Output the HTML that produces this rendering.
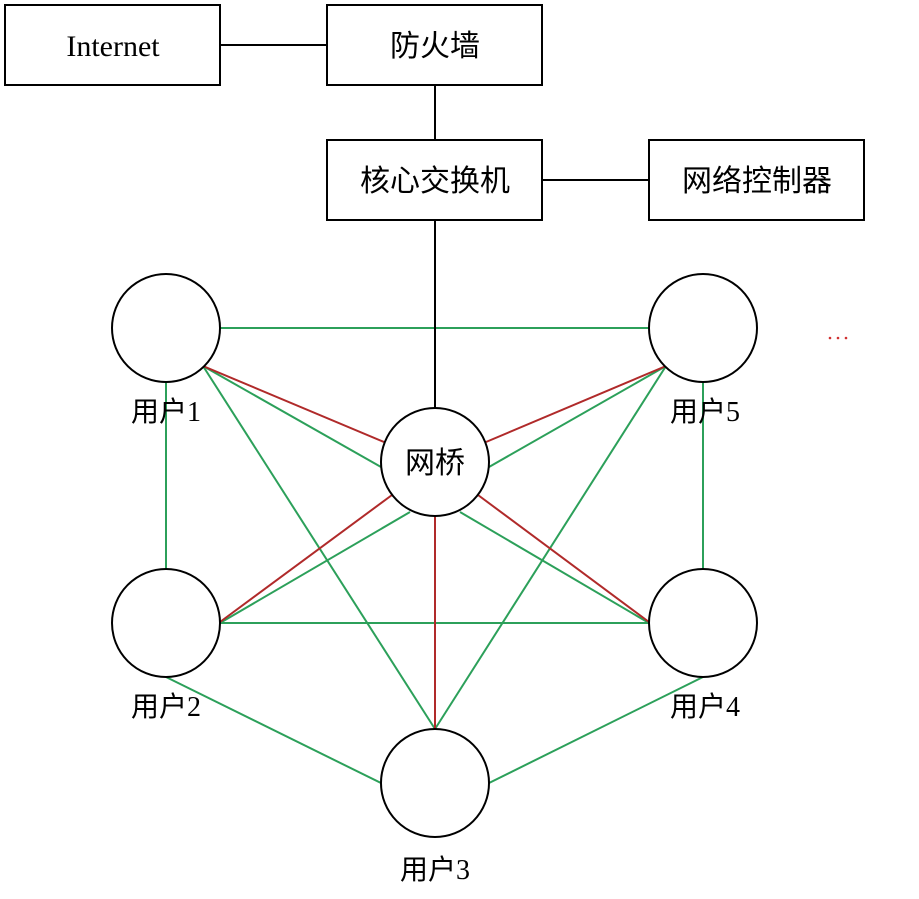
<!DOCTYPE html>
<html><head><meta charset="utf-8"><style>
body{margin:0;background:#fff}
text{font-family:"Liberation Serif","Noto Sans CJK SC",serif;font-size:30px;fill:#000}
text.u{font-size:28px}
</style></head><body>
<svg width="919" height="894" viewBox="0 0 919 894" xmlns="http://www.w3.org/2000/svg">
<g fill="none" stroke-width="2">
<g stroke="#2ca05a">
<line x1="220" y1="328" x2="649" y2="328"/>
<line x1="166" y1="382" x2="166" y2="569"/>
<line x1="703" y1="382" x2="703" y2="569"/>
<line x1="220" y1="623" x2="649" y2="623"/>
<line x1="203" y1="366" x2="381" y2="467"/>
<line x1="203" y1="366" x2="435" y2="729"/>
<line x1="666" y1="366" x2="489" y2="467"/>
<line x1="666" y1="366" x2="435" y2="729"/>
<line x1="410" y1="512" x2="220" y2="623"/>
<line x1="460" y1="512" x2="649" y2="623"/>
<line x1="166" y1="677" x2="385" y2="785"/>
<line x1="703" y1="677" x2="485" y2="785"/>
</g>
<g stroke="#b02a2a">
<line x1="203" y1="366" x2="384" y2="442"/>
<line x1="666" y1="366" x2="486" y2="442"/>
<line x1="392" y1="495" x2="220" y2="622"/>
<line x1="478" y1="495" x2="649" y2="622"/>
<line x1="435" y1="516" x2="435" y2="729"/>
</g>
<g stroke="#000">
<line x1="220" y1="45" x2="327" y2="45"/>
<line x1="435" y1="85" x2="435" y2="140"/>
<line x1="542" y1="180" x2="649" y2="180"/>
<line x1="435" y1="220" x2="435" y2="409"/>
<rect x="5" y="5" width="215" height="80" fill="#fff"/>
<rect x="327" y="5" width="215" height="80" fill="#fff"/>
<rect x="327" y="140" width="215" height="80" fill="#fff"/>
<rect x="649" y="140" width="215" height="80" fill="#fff"/>
<circle cx="166" cy="328" r="54" fill="#fff"/>
<circle cx="703" cy="328" r="54" fill="#fff"/>
<circle cx="435" cy="462" r="54" fill="#fff"/>
<circle cx="166" cy="623" r="54" fill="#fff"/>
<circle cx="703" cy="623" r="54" fill="#fff"/>
<circle cx="435" cy="783" r="54" fill="#fff"/>
</g>
</g>
<g text-anchor="middle">
<text x="113" y="56">Internet</text>
<text x="435" y="56">防火墙</text>
<text x="435" y="191">核心交换机</text>
<text x="757" y="191">网络控制器</text>
<text x="435" y="473">网桥</text>
<text class="u" x="166" y="421">用户1</text>
<text class="u" x="705" y="421">用户5</text>
<text class="u" x="166" y="716">用户2</text>
<text class="u" x="705" y="716">用户4</text>
<text class="u" x="435" y="879">用户3</text>
</g>
<g fill="#d03030"><circle cx="830" cy="338" r="1.3"/><circle cx="838" cy="338" r="1.3"/><circle cx="846" cy="338" r="1.3"/></g>
</svg>
</body></html>
